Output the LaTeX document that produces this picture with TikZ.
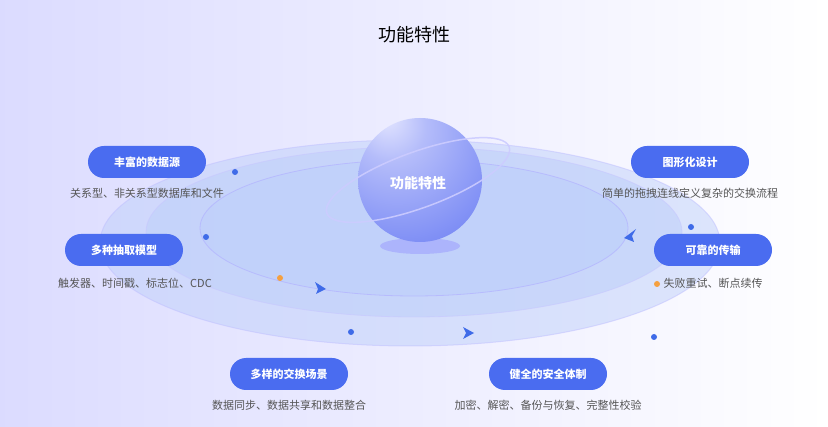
\documentclass[tikz,border=0pt]{standalone}
\usepackage{fontspec}
\setmainfont{Noto Sans CJK SC}
\usetikzlibrary{shadings}
\definecolor{pill}{HTML}{4A6CF0}
\definecolor{ell}{HTML}{BFD0FA}
\definecolor{gtxt}{HTML}{555555}
\definecolor{dotb}{HTML}{3F6BE8}
\definecolor{doto}{HTML}{F5A040}
\definecolor{sa}{HTML}{E4E6FF}
\definecolor{sb}{HTML}{B4BCFA}
\definecolor{sc}{HTML}{7D8DF5}
\definecolor{sd}{HTML}{5068EE}
\pgfdeclareradialshading{sph}{\pgfpoint{-14bp}{26bp}}{color(0bp)=(sa); color(14bp)=(sb); color(40bp)=(sc); color(70bp)=(sd); color(80bp)=(sd)}
\begin{document}
\begin{tikzpicture}[x=1pt,y=-1pt,
  pillbox/.style={fill=pill,text=white,rounded corners=16pt,minimum width=118pt,minimum height=32pt,font=\bfseries\fontsize{11}{12}\selectfont,inner sep=0pt},
  sub/.style={text=gtxt,font=\fontsize{11}{13}\selectfont},
  dotb/.style={circle,fill=dotb,inner sep=0pt,minimum size=6pt},
  doto/.style={circle,fill=doto,inner sep=0pt,minimum size=6pt},
  tri/.style={fill=dotb}]
\useasboundingbox (0,0) rectangle (828,427);
\shade[left color=blue!14!white,right color=white] (0,0) rectangle (828,427);
\node (title) at (414,35) {\fontsize{18}{20}\selectfont 功能特性};
% ellipses
\fill[ell,opacity=0.5,draw=blue!25,line width=1pt] (410,243) ellipse [x radius=310,y radius=103];
\fill[ell,opacity=0.6,draw=blue!22,line width=0.8pt] (414,232) ellipse [x radius=268,y radius=85];
\fill[ell,opacity=0.7,draw=blue!30,line width=0.8pt] (414,228) ellipse [x radius=214,y radius=68];
% shadow
\fill[blue!40,opacity=0.5] (420,246) ellipse [x radius=40,y radius=8];
% sphere
\shade[shading=sph] (420,180) circle (62);
\draw[blue!20!white,opacity=0.9,line width=1.5pt,rotate around={20:(418,180)}] (418,180) ellipse [x radius=97,y radius=28];
\node[text=white,font=\bfseries\fontsize{14}{16}\selectfont] (center) at (418,183) {功能特性};
% pills
\node[pillbox] (p1) at (147,162) {丰富的数据源};
\node[sub] (s1) at (147,193) {关系型、非关系型数据库和文件};
\node[pillbox] (p2) at (124,250) {多种抽取模型};
\node[sub] (s2) at (135,283) {触发器、时间戳、标志位、CDC};
\node[pillbox] (p3) at (289,374) {多样的交换场景};
\node[sub] (s3) at (289,405) {数据同步、数据共享和数据整合};
\node[pillbox] (p4) at (548,374) {健全的安全体制};
\node[sub] (s4) at (548,405) {加密、解密、备份与恢复、完整性校验};
\node[pillbox] (p5) at (713,250) {可靠的传输};
\node[sub] (s5) at (713,283) {失败重试、断点续传};
\node[pillbox] (p6) at (690,162) {图形化设计};
\node[sub] (s6) at (690,193) {简单的拖拽连线定义复杂的交换流程};
% dots
\node[dotb] (d1) at (235,172) {};
\node[dotb] (d2) at (206,237) {};
\node[dotb] (d3) at (351,332) {};
\node[dotb] (d4) at (691,227) {};
\node[dotb] (d5) at (654,337) {};
\node[doto] (o1) at (280,278) {};
\node[doto] (o2) at (657,284) {};
% arrow triangles
\fill[tri] (326,289) -- (315,282) -- (318,289) -- (316,294) -- cycle;
\fill[tri] (474,333) -- (463,327) -- (466,333) -- (463,339) -- cycle;
\fill[tri] (624,238) -- (636,229) -- (632,236) -- (634,242) -- cycle;
\end{tikzpicture}
\end{document}
